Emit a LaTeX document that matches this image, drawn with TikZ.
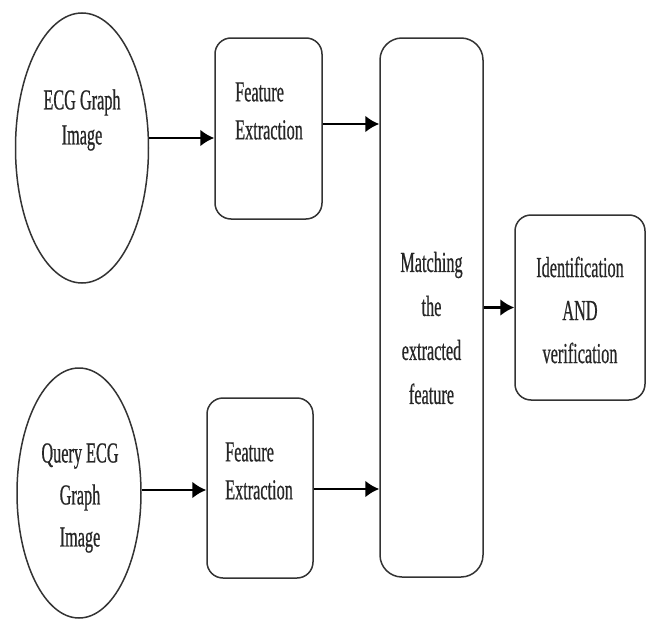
\documentclass[tikz,border=0pt]{standalone}
\usepackage{fontspec}
\setmainfont{Liberation Serif}
\newfontfamily\cfont[FakeStretch=0.56,FakeBold=0.6]{Liberation Serif}
\usetikzlibrary{shapes.geometric,arrows.meta,calc}
\tikzset{
  shapeline/.style={draw=black!80, line width=1.5pt},
  ellnode/.style={shapeline, ellipse, inner sep=0pt},
  boxnode/.style={shapeline, rectangle, rounded corners=16pt, inner sep=0pt},
  lbl/.style={inner sep=0pt, text=black!85, font=\cfont\fontsize{29}{#1}\selectfont},
  arr/.style={line width=2.5pt, -{Latex[length=14pt,width=17pt]}}
}
\begin{document}
\begin{tikzpicture}[x=1pt,y=-1pt]
\useasboundingbox (0,0) rectangle (646,621);
% shapes
\node[ellnode, minimum width=133pt, minimum height=270pt] (e1) at (82,148) {};
\node[ellnode, minimum width=124pt, minimum height=250pt] (e2) at (79,493) {};
\node[boxnode, minimum width=107pt, minimum height=181pt] (b1) at (268.5,128.5) {};
\node[boxnode, minimum width=106pt, minimum height=180pt] (b2) at (260,488) {};
\node[boxnode, rounded corners=22pt, minimum width=103pt, minimum height=539pt] (m) at (431.5,307.5) {};
\node[boxnode, minimum width=130pt, minimum height=185pt] (r) at (580,307.5) {};
% texts
\node[lbl=35, align=center] (te1) at (82,120) {ECG Graph\\Image};
\node[lbl=42, align=center] (te2) at (80,498) {Query ECG\\Graph\\Image};
\node[lbl=38, align=left, anchor=west] (tb1) at (235,111) {Feature\\Extraction};
\node[lbl=38, align=left, anchor=west] (tb2) at (225,471) {Feature\\Extraction};
\node[lbl=44, align=center] (tm) at (431.5,328) {Matching\\the\\extracted\\feature};
\node[lbl=43, align=center] (tr) at (580,310) {Identification\\AND\\verification};
% connectors
\coordinate (a1) at (e1.east |- 0,138);
\coordinate (a2) at (e2.east |- 0,490);
\coordinate (a3) at (b1.east |- 0,124);
\coordinate (a4) at (b2.east |- 0,489);
\draw[arr] (a1) -- (a1 -| b1.west);
\draw[arr] (a2) -- (a2 -| b2.west);
\draw[arr] (a3) -- (a3 -| m.west);
\draw[arr] (a4) -- (a4 -| m.west);
\draw[arr] (m.east) -- (r.west);
\end{tikzpicture}
\end{document}
